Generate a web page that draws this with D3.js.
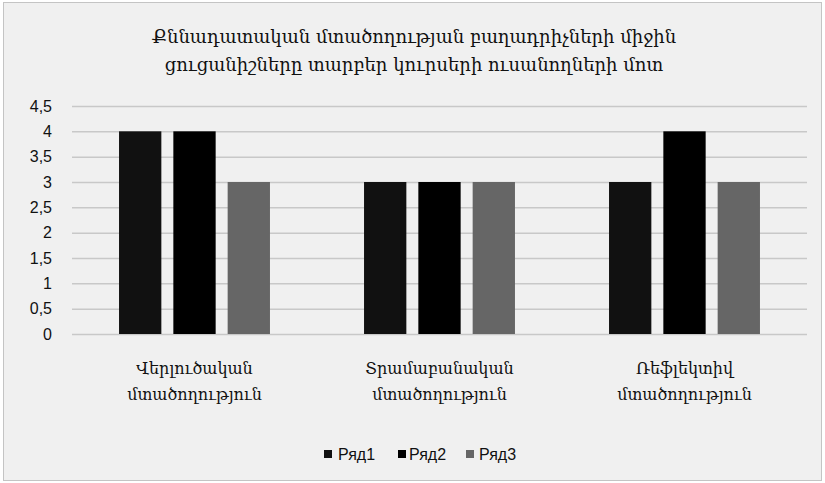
<!DOCTYPE html>
<html>
<head>
<meta charset="utf-8">
<script src="https://cdn.jsdelivr.net/npm/d3@7"></script>
<style>
  html, body { margin: 0; padding: 0; background: #ffffff; }
  svg { display: block; }
</style>
</head>
<body>
<div id="chart"></div>
<script>
// Chart data
const titleLines = [
  "Քննադատական մտածողության բաղադրիչների միջին",
  "ցուցանիշները տարբեր կուրսերի ուսանողների մոտ"
];
const categories = [
  ["Վերլուծական", "մտածողություն"],
  ["Տրամաբանական", "մտածողություն"],
  ["Ռեֆլեկտիվ", "մտածողություն"]
];
const seriesNames = ["Ряд1", "Ряд2", "Ряд3"];
const seriesColors = ["#111111", "#000000", "#666666"];
const ryad1 = [4, 3, 3];
const ryad2 = [4, 3, 4];
const ryad3 = [3, 3, 3];
const yTicks = [0, 0.5, 1, 1.5, 2, 2.5, 3, 3.5, 4, 4.5];

const seriesValues = [ryad1, ryad2, ryad3];

const W = 825, H = 483;
const armenianFont = "'DejaVu Serif', serif";
const latinFont = "'Liberation Sans', 'Open Sans', sans-serif";
const textColor = "#111";

const svg = d3.select("#chart").append("svg")
  .attr("width", W).attr("height", H);

// Chart area background and frame
svg.append("rect")
  .attr("x", 3.5).attr("y", 2.5)
  .attr("width", W - 7).attr("height", H - 5)
  .attr("fill", "#f0f0f0")
  .attr("stroke", "#c4c4c4")
  .attr("stroke-width", 1);

const plot = { left: 72, right: 807, top: 106, bottom: 334 };

const x0 = d3.scaleBand()
  .domain(d3.range(categories.length))
  .range([plot.left, plot.right])
  .padding(0);

const x1 = d3.scaleBand()
  .domain(d3.range(seriesNames.length))
  .range([0, x0.bandwidth()])
  .paddingInner(0.221)
  .paddingOuter(0.866);

const y = d3.scaleLinear()
  .domain([0, 4.5])
  .range([plot.bottom, plot.top]);

// Horizontal gridlines with value labels
const yAxis = d3.axisLeft(y)
  .tickValues(yTicks)
  .tickSize(-(plot.right - plot.left))
  .tickPadding(20)
  .tickFormat(d => d3.format("")(d).replace(".", ","));

const gY = svg.append("g")
  .attr("transform", `translate(${plot.left},0)`)
  .call(yAxis);
gY.select(".domain").remove();
gY.selectAll(".tick line")
  .attr("stroke", "#c8c8c8")
  .attr("stroke-width", 1.5);
gY.selectAll(".tick text")
  .attr("fill", textColor)
  .attr("font-family", latinFont)
  .attr("font-size", 16);

// Bars
const groups = svg.append("g").selectAll("g")
  .data(categories.map((c, i) => i))
  .join("g")
  .attr("transform", i => `translate(${x0(i)},0)`);

groups.selectAll("rect")
  .data(i => seriesValues.map((vals, s) => ({ s, v: vals[i] })))
  .join("rect")
  .attr("x", d => x1(d.s))
  .attr("width", x1.bandwidth())
  .attr("y", d => y(d.v))
  .attr("height", d => y(0) - y(d.v))
  .attr("fill", d => seriesColors[d.s]);

// Category labels (two lines each)
const xLabels = svg.append("g");
categories.forEach((lines, i) => {
  const cx = x0(i) + x0.bandwidth() / 2;
  const t = xLabels.append("text")
    .attr("x", cx)
    .attr("y", 374)
    .attr("text-anchor", "middle")
    .attr("font-family", armenianFont)
    .attr("font-size", 16)
    .attr("fill", textColor);
  lines.forEach((ln, k) => {
    t.append("tspan")
      .attr("x", cx)
      .attr("dy", k === 0 ? 0 : 26)
      .text(ln);
  });
});

// Title
const title = svg.append("text")
  .attr("text-anchor", "middle")
  .attr("font-family", armenianFont)
  .attr("font-size", 18)
  .attr("fill", textColor);
titleLines.forEach((ln, k) => {
  title.append("tspan")
    .attr("x", 414)
    .attr("y", 43 + k * 28)
    .text(ln);
});

// Legend
const legendItems = [
  { sq: 324, tx: 338 },
  { sq: 398, tx: 409 },
  { sq: 466, tx: 479 }
];
const legend = svg.append("g");
seriesNames.forEach((name, s) => {
  legend.append("rect")
    .attr("x", legendItems[s].sq)
    .attr("y", 450)
    .attr("width", 8).attr("height", 8)
    .attr("fill", seriesColors[s]);
  legend.append("text")
    .attr("x", legendItems[s].tx)
    .attr("y", 460)
    .attr("font-family", latinFont)
    .attr("font-size", 16)
    .attr("fill", textColor)
    .text(name);
});
</script>
</body>
</html>
